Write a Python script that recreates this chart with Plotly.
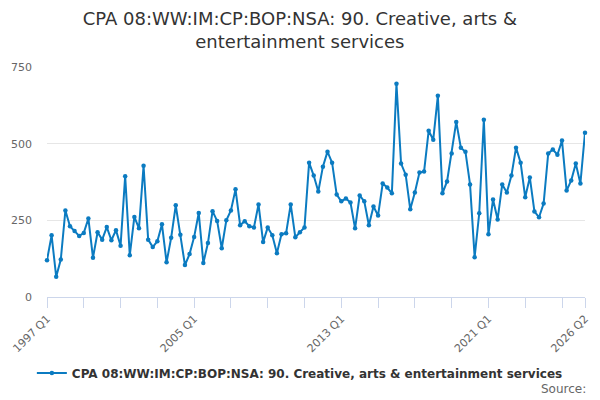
import plotly.graph_objects as go

years = list(range(1997, 2027))
quarters = [f"{y} Q{q}" for y in years for q in range(1, 5)]
quarters = quarters[:quarters.index("2026 Q2") + 1]

values = [
    120, 201, 66, 122, 282, 231, 215, 199, 209, 256, 128, 211, 187, 228, 185, 218,
    167, 394, 136, 261, 224, 428, 187, 163, 182, 237, 113, 193, 299, 203, 104, 140,
    196, 274, 111, 176, 280, 248, 159, 250, 282, 351, 234, 247, 231, 227, 302, 179,
    227, 201, 143, 205, 208, 302, 195, 211, 227, 438, 396, 344, 425, 474, 438, 334,
    312, 321, 308, 224, 331, 312, 234, 295, 266, 370, 357, 338, 695, 435, 399, 286,
    341, 406, 409, 542, 513, 656, 338, 377, 468, 571, 487, 474, 367, 130, 273, 578,
    205, 318, 253, 367, 341, 396, 487, 438, 325, 390, 279, 260, 305, 468, 481, 464,
    510, 347, 380, 435, 370, 536,
]

series_name = "CPA 08:WW:IM:CP:BOP:NSA: 90. Creative, arts &amp; entertainment services"
title_text = "CPA 08:WW:IM:CP:BOP:NSA: 90. Creative, arts &amp;<br>entertainment services"
label_cats = ["1997 Q1", "2005 Q1", "2013 Q1", "2021 Q1", "2026 Q2"]
y_ticks = [0, 250, 500, 750]

idx = list(range(len(quarters)))
tick_idx = idx[::8] + [idx[-1]]
tick_text = [quarters[i] if quarters[i] in label_cats else "" for i in tick_idx]

fig = go.Figure()
fig.add_trace(go.Scatter(
    x=idx, y=values, mode="lines+markers", name=series_name,
    text=quarters, hovertemplate="%{text}: %{y}<extra></extra>",
    line=dict(color="#0b7bc1", width=2),
    marker=dict(size=4.5, color="#0b7bc1"),
    cliponaxis=False,
))

# page body has an 8px margin, so the figure is sized to fill the rest of the window
fig.update_layout(
    width=592, height=392,
    paper_bgcolor="white", plot_bgcolor="white",
    margin=dict(l=39, r=15, t=59, b=103, pad=0, autoexpand=False),
    font=dict(family="DejaVu Sans", color="#666666", size=11),
    title=dict(text=title_text, x=0.47, xref="paper", xanchor="center",
               y=0.957, yref="container", yanchor="middle",
               font=dict(size=18, color="#333333", family="DejaVu Sans")),
    showlegend=True,
    legend=dict(orientation="h", x=0.47, xanchor="center",
                y=-0.33, yanchor="middle",
                font=dict(size=12, color="#333333", family="DejaVu Sans", weight="bold")),
    xaxis=dict(range=[0, len(quarters) - 1], automargin=False,
               tickmode="array", tickvals=tick_idx, ticktext=tick_text,
               tickangle=-45, ticks="outside", ticklen=10, tickcolor="#ccd6eb",
               showline=True, linecolor="#ccd6eb", linewidth=1,
               showgrid=False, zeroline=False,
               tickfont=dict(size=11, color="#666666")),
    yaxis=dict(range=[0, 750], tickvals=y_ticks, automargin=False,
               showgrid=True, gridcolor="#e6e6e6",
               zeroline=False, showline=False, ticks="", ticklabelstandoff=14,
               tickfont=dict(size=11, color="#666666")),
    annotations=[dict(text="Source:", xref="paper", yref="paper", x=1.005, y=-0.40,
                      xanchor="right", yanchor="middle", showarrow=False,
                      font=dict(size=12, color="#666666"))],
)

fig.write_html("out.html")
